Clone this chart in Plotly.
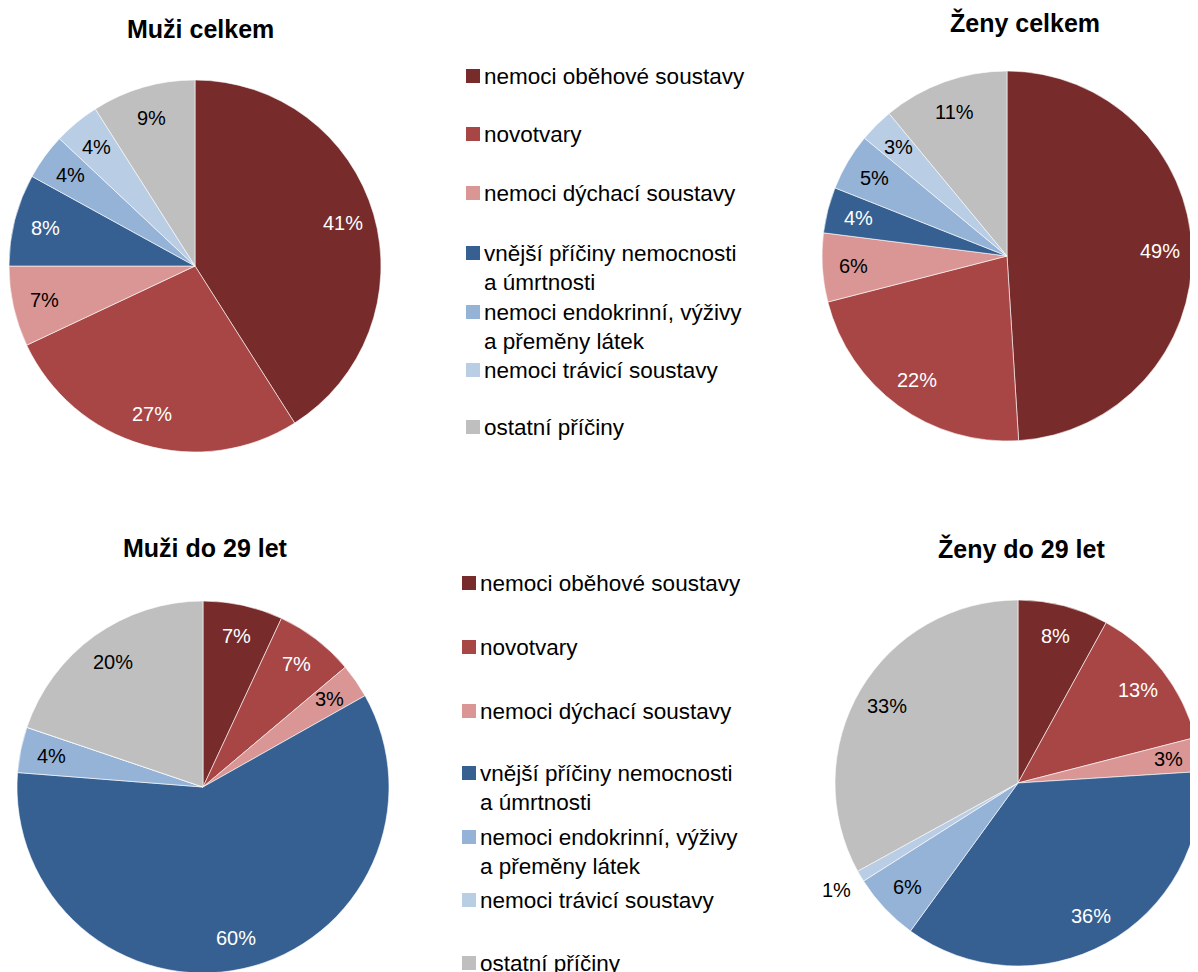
import math
import plotly.graph_objects as go

categories = [
    "nemoci oběhové soustavy",
    "novotvary",
    "nemoci dýchací soustavy",
    "vnější příčiny nemocnosti<br>a úmrtnosti",
    "nemoci endokrinní, výživy<br>a přeměny látek",
    "nemoci trávicí soustavy",
    "ostatní příčiny",
]
colors = ["#772B2B", "#A84545", "#D99694", "#376092", "#95B3D7", "#B9CDE5", "#BFBFBF"]
text_colors = ["white", "white", "black", "white", "black", "black", "black"]

titles = ["Muži celkem", "Ženy celkem", "Muži do 29 let", "Ženy do 29 let"]
muzi_celkem = [41, 27, 7, 8, 4, 4, 9]
zeny_celkem = [49, 22, 6, 4, 5, 3, 11]
muzi_do29 = [7, 7, 3, 60, 4, 0, 20]
zeny_do29 = [8, 13, 3, 36, 6, 1, 33]
series = [muzi_celkem, zeny_celkem, muzi_do29, zeny_do29]

W, H = 1198, 972
OFF = 8  # page body margin: screen px = figure px + OFF
FONT = "Liberation Sans, Arial, sans-serif"


def px(x):
    return (x - OFF) / W


def py(y):
    return 1 - (y - OFF) / H


# pie boxes in screen pixels: (left, top, right, bottom)
boxes = [(9, 80, 381, 452), (822, 71, 1192, 441), (17, 601, 389, 973), (835, 600, 1201, 966)]
title_pos = [(200, 29), (1025, 23), (205, 548), (1022, 548)]

fig = go.Figure()
for i, vals in enumerate(series):
    l, t, r, b = boxes[i]
    fig.add_trace(go.Pie(
        values=vals,
        labels=[c.replace("<br>", " ") for c in categories],
        textinfo="none",
        sort=False,
        direction="clockwise",
        rotation=0,
        marker=dict(colors=colors, line=dict(color="white", width=0.6)),
        domain=dict(x=[px(l), px(r)], y=[py(b), py(t)]),
        showlegend=False,
        hoverinfo="label+percent",
    ))
    # data labels, placed along each slice's mid-angle
    cx, cy = (l + r) / 2, (t + b) / 2
    R = min(r - l, b - t) / 2
    total = sum(vals)
    cum = 0
    for v, tc in zip(vals, text_colors):
        start = cum
        cum += v
        if v <= 0:
            continue
        mid = (start + cum) / 2 / total * 2 * math.pi
        outside = v / total < 0.02
        rr = R * (1.15 if outside else 0.83)
        lx = cx + rr * math.sin(mid)
        ly = cy - rr * math.cos(mid)
        fig.add_annotation(x=px(lx), y=py(ly), xref="paper", yref="paper",
                           text=f"{v}%", showarrow=False,
                           xanchor="center", yanchor="middle",
                           font=dict(size=20, family=FONT,
                                     color="black" if outside else tc))

for (tx, ty), title in zip(title_pos, titles):
    fig.add_annotation(x=px(tx), y=py(ty), xref="paper", yref="paper",
                       text=f"<b>{title}</b>", showarrow=False,
                       font=dict(size=25, family=FONT, color="black"),
                       xanchor="center", yanchor="middle")

# manual legends (layout positions in screen pixels)
legend_layouts = [
    dict(sq_x=466, txt_x=482, ys=[76, 134, 193, 253, 312, 370, 427]),
    dict(sq_x=462, txt_x=478, ys=[583, 647, 711, 773, 837, 900, 963]),
]
for lg in legend_layouts:
    for cat, col, y in zip(categories, colors, lg["ys"]):
        fig.add_shape(type="rect", xref="paper", yref="paper",
                      x0=px(lg["sq_x"]), x1=px(lg["sq_x"] + 14),
                      y0=py(y + 7), y1=py(y - 7),
                      fillcolor=col, line=dict(width=0))
        fig.add_annotation(x=px(lg["txt_x"]), y=py(y - 14), xref="paper", yref="paper",
                           text=cat, showarrow=False, align="left",
                           xanchor="left", yanchor="top",
                           font=dict(size=22.5, family=FONT, color="black"))

fig.update_layout(
    width=W, height=H,
    margin=dict(l=0, r=0, t=0, b=0),
    paper_bgcolor="white", plot_bgcolor="white",
    font=dict(family=FONT),
)
fig.write_html("out.html")
